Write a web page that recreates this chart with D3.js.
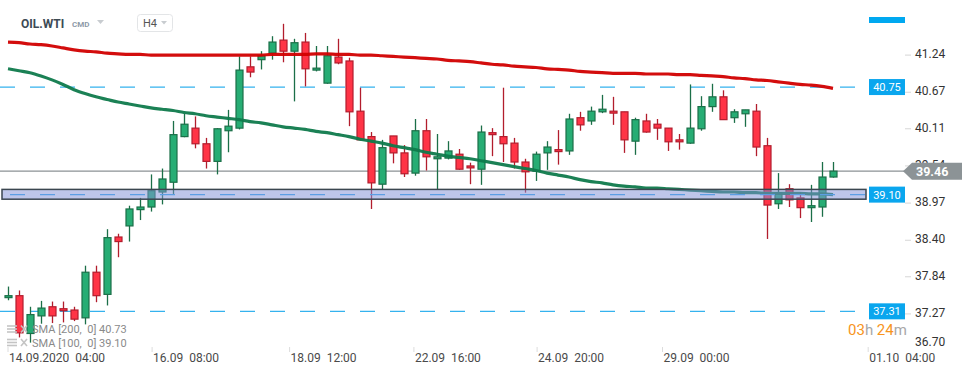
<!DOCTYPE html>
<html lang="en">
<head>
<meta charset="UTF-8">
<title>OIL.WTI H4</title>
<script src="https://d3js.org/d3.v7.min.js"></script>
<style>
body { margin: 0; background: #fff; font-family: Roboto, 'Open Sans', sans-serif; }
svg { display: block; }
.ytick { font-size: 12px; fill: #333; }
.xtick { font-size: 12px; fill: #4a4a4a; white-space: pre; }
.legend { font-size: 11px; fill: #8a8a8a; white-space: pre; }
</style>
</head>
<body>
<svg width="974" height="375"></svg>
<script>
// candle data, H4, index 0 = 14.09.2020 04:00
var opens  = [37.52,37.55,36.97,37.24,37.38,37.35,37.33,37.21,37.91,37.57,38.45,38.62,38.87,38.91,39.14,39.29,39.99,40.12,39.88,39.61,
              40.08,40.12,41.06,41.17,41.27,41.47,41.30,41.44,41.01,40.81,41.21,41.15,40.38,39.99,39.26,40.00,39.74,39.43,40.08,39.65,
              39.66,39.72,39.54,39.49,40.05,39.99,39.89,39.60,39.46,39.74,39.79,39.77,40.28,40.23,40.37,40.38,40.37,39.92,40.23,40.18,
              40.12,39.94,39.89,40.11,40.45,40.60,40.28,40.34,40.38,39.85,38.96,39.19,39.05,38.90,38.91,39.37];
var highs  = [37.69,37.63,37.38,37.47,37.46,37.46,37.38,38.01,38.01,38.57,38.50,38.93,39.05,39.41,39.50,40.23,40.34,40.30,39.97,40.12,
              40.40,41.22,41.22,41.30,41.53,41.72,41.49,41.58,41.38,41.38,41.49,41.20,40.74,40.06,39.94,40.00,39.86,40.26,40.26,40.03,
              39.92,39.80,39.59,40.16,40.12,40.74,39.97,39.65,39.76,39.92,40.09,40.34,40.37,40.45,40.63,40.60,40.37,40.28,40.34,40.26,
              40.12,40.03,40.79,40.61,40.80,40.70,40.41,40.40,40.49,39.97,39.43,39.26,39.14,39.25,39.60,39.60];
var lows   = [37.48,36.91,36.83,37.12,37.13,37.14,37.16,37.11,37.45,37.40,38.14,38.38,38.71,38.84,38.95,39.11,39.98,39.81,39.50,39.41,
              39.75,40.10,40.90,41.02,41.17,41.13,40.53,40.76,40.99,40.80,41.10,40.15,39.93,38.88,39.18,39.58,39.37,39.39,39.47,39.18,
              39.64,39.48,39.26,39.25,39.69,39.60,39.50,39.13,39.31,39.48,39.56,39.71,40.08,40.17,40.35,40.17,39.74,39.71,40.05,39.94,
              39.77,39.79,39.88,40.08,40.37,40.25,40.20,40.14,39.69,38.42,38.88,38.91,38.74,38.68,38.76,39.36];
var closes = [37.55,36.98,37.26,37.36,37.24,37.32,37.19,37.91,37.55,38.44,38.38,38.88,38.91,39.16,39.34,40.02,40.18,39.88,39.61,40.11,
              40.15,41.01,40.98,41.23,41.44,41.30,41.43,41.03,41.04,41.23,41.12,40.37,39.94,39.28,39.82,39.74,39.42,40.08,39.68,39.68,
              39.77,39.49,39.51,40.06,40.02,39.88,39.60,39.45,39.72,39.83,39.76,40.26,40.17,40.38,40.41,40.35,39.94,40.25,40.06,40.12,
              39.91,39.91,40.12,40.45,40.60,40.25,40.37,40.40,39.83,38.94,39.13,39.02,38.90,38.93,39.37,39.46];

var sma200 = [41.44,41.43,41.41,41.40,41.38,41.35,41.32,41.30,41.29,41.27,41.26,41.25,41.25,41.24,41.24,41.24,41.24,41.24,41.24,41.24,
              41.24,41.24,41.24,41.24,41.25,41.25,41.25,41.25,41.26,41.26,41.25,41.25,41.24,41.24,41.23,41.22,41.21,41.20,41.19,41.18,
              41.16,41.15,41.14,41.12,41.10,41.09,41.07,41.06,41.05,41.03,41.02,41.01,40.99,40.98,40.97,40.96,40.96,40.96,40.95,40.95,
              40.95,40.94,40.94,40.93,40.92,40.91,40.89,40.88,40.86,40.85,40.83,40.81,40.79,40.78,40.76,40.73];
var sma100 = [41.03,41.00,40.97,40.92,40.86,40.79,40.71,40.65,40.60,40.56,40.52,40.49,40.46,40.43,40.41,40.39,40.36,40.34,40.31,40.29,
              40.27,40.25,40.22,40.20,40.17,40.14,40.12,40.10,40.07,40.05,40.02,39.99,39.95,39.92,39.89,39.85,39.82,39.79,39.75,39.72,
              39.69,39.67,39.65,39.62,39.59,39.56,39.53,39.50,39.47,39.43,39.40,39.37,39.33,39.30,39.28,39.25,39.23,39.22,39.20,39.20,
              39.19,39.18,39.17,39.16,39.15,39.14,39.14,39.13,39.13,39.12,39.12,39.12,39.12,39.11,39.11,39.10];

var yTicks = [41.24, 40.67, 40.11, 39.54, 38.97, 38.40, 37.84, 37.27, 36.70];
var xLabels = ["14.09.2020  04:00", "16.09  08:00", "18.09  12:00", "22.09  16:00", "24.09  20:00", "29.09  00:00", "01.10  04:00"];
var xLabelIdx = [0, 13.1, 25.6, 36.9, 48.1, 59.5, 78.2];

var levels = [40.75, 37.31];      // dashed horizontal levels
var zone = [39.03, 39.18];        // support zone
var zoneLevel = 39.10;
var lastPrice = 39.46;
var smaLegend = [["SMA [200,  0]", "40.73"], ["SMA [100,  0]", "39.10"]];

var svg = d3.select("svg");
var x = d3.scaleLinear().domain([0, 75]).range([8, 833]);
var y = d3.scaleLinear().domain([36.70, 41.24]).range([351.1, 55.1]);

var upFill = "#27ad74", upLine = "#1b6f48", dnFill = "#ff3446", dnLine = "#b21d2d";

// header
var head = svg.append("g");
head.append("text").attr("x", 21).attr("y", 28).text("OIL.WTI")
    .style("font-size", "12px").style("font-weight", "bold").style("fill", "#3d4a55");
head.append("text").attr("x", 72).attr("y", 27).text("CMD")
    .style("font-size", "8px").style("font-weight", "bold").style("fill", "#8d9aa8");
head.append("path").attr("d", "M97,20 L104,20 L100.5,24 Z").style("fill", "#c8ccd0");
head.append("rect").attr("x", 137.5).attr("y", 14.5).attr("width", 35).attr("height", 17).attr("rx", 3)
    .style("fill", "#fff").style("stroke", "#e3e5e7");
head.append("text").attr("x", 143).attr("y", 27).text("H4").style("font-size", "11px").style("fill", "#555");
head.append("path").attr("d", "M161,21 L167,21 L164,24.5 Z").style("fill", "#c8ccd0");
svg.append("rect").attr("x", 869).attr("y", 17).attr("width", 36).attr("height", 6).style("fill", "#00a8f0");

// y axis
var yax = svg.append("g");
yTicks.forEach(function(v) {
    var ty = Math.min(y(v), 343);
    if (y(v) < 345) {
        yax.append("line").attr("x1", 905).attr("x2", 911).attr("y1", y(v)).attr("y2", y(v))
            .style("stroke", "#d6d6d6");
    }
    yax.append("text").attr("class", "ytick").attr("x", 915).attr("y", ty + 3).text(v.toFixed(2));
});

// x axis
var xax = svg.append("g");
xLabels.forEach(function(t, i) {
    var px = x(xLabelIdx[i]);
    xax.append("line").attr("x1", px).attr("x2", px).attr("y1", 347).attr("y2", 352).style("stroke", "#dcdcdc");
    xax.append("text").attr("class", "xtick").attr("x", px + 1).attr("y", 362).text(t);
});

// dashed levels
levels.forEach(function(v) {
    svg.append("line").attr("x1", 0).attr("x2", 866).attr("y1", y(v)).attr("y2", y(v))
        .style("stroke", "#35b2ee").style("stroke-width", 1.2).style("stroke-dasharray", "15,15");
});

// last price line
svg.append("line").attr("x1", 0).attr("x2", 905).attr("y1", y(lastPrice)).attr("y2", y(lastPrice))
    .style("stroke", "#8b9295").style("stroke-width", 1.2);

// candles
var data = opens.map(function(o, i) {
    return { i: i, o: o, h: highs[i], l: lows[i], c: closes[i] };
});
var cg = svg.append("g").selectAll("g").data(data).enter().append("g");
cg.append("line")
    .attr("x1", function(d) { return Math.round(x(d.i)) + 0.5; })
    .attr("x2", function(d) { return Math.round(x(d.i)) + 0.5; })
    .attr("y1", function(d) { return y(d.h); })
    .attr("y2", function(d) { return y(d.l); })
    .style("stroke", function(d) { return d.c >= d.o ? upLine : dnLine; })
    .style("stroke-width", 1.3);
cg.append("rect")
    .attr("x", function(d) { return Math.round(x(d.i)) - 3; })
    .attr("y", function(d) { return y(Math.max(d.o, d.c)); })
    .attr("width", 7)
    .attr("height", function(d) { return Math.max(1.5, Math.abs(y(d.o) - y(d.c))); })
    .style("fill", function(d) { return d.c >= d.o ? upFill : dnFill; })
    .style("stroke", function(d) { return d.c >= d.o ? upLine : dnLine; })
    .style("stroke-width", 1.2);

// moving averages
var line = d3.line().x(function(d, i) { return x(i); }).y(function(d) { return y(d); }).curve(d3.curveMonotoneX);
svg.append("path").datum(sma200).attr("d", line)
    .style("fill", "none").style("stroke", "#d10000").style("stroke-width", 3.2).style("opacity", 0.95);
svg.append("path").datum(sma100).attr("d", line)
    .style("fill", "none").style("stroke", "#0f7a4c").style("stroke-width", 3.2).style("opacity", 0.95);

// support zone
svg.append("rect").attr("x", 2).attr("y", y(zone[1])).attr("width", 864).attr("height", y(zone[0]) - y(zone[1]))
    .style("fill", "#8391d6").style("fill-opacity", 0.52).style("stroke", "#3b4650").style("stroke-width", 1.5);
svg.append("line").attr("x1", 10).attr("x2", 866).attr("y1", y(zoneLevel)).attr("y2", y(zoneLevel))
    .style("stroke", "#5c9ee4").style("stroke-width", 1.2).style("stroke-dasharray", "15,15");

// level tags
[levels[0], zoneLevel, levels[1]].forEach(function(v) {
    svg.append("rect").attr("x", 869).attr("y", y(v) - 8).attr("width", 36).attr("height", 16)
        .style("fill", "#0aa6ee");
    svg.append("text").attr("x", 887).attr("y", y(v) + 4).attr("text-anchor", "middle").text(v.toFixed(2))
        .style("font-size", "11px").style("fill", "#fff");
});

// last price tag
var ly = y(lastPrice);
svg.append("path")
    .attr("d", "M903," + ly + " L912," + (ly - 8.5) + " L962," + (ly - 8.5) + " L962," + (ly + 8.5) + " L912," + (ly + 8.5) + " Z")
    .style("fill", "#8c9396");
svg.append("text").attr("x", 916).attr("y", ly + 4.5).text(lastPrice.toFixed(2))
    .style("font-size", "12.5px").style("font-weight", "bold").style("fill", "#fff");

// timer
var timer = svg.append("text").attr("x", 848).attr("y", 335).style("font-size", "15px");
[["03", "#f7941d"], ["h ", "#a8a8a8"], ["24", "#f7941d"], ["m", "#a8a8a8"]].forEach(function(p) {
    timer.append("tspan").text(p[0]).style("fill", p[1]).style("white-space", "pre");
});

// legend
smaLegend.forEach(function(s, i) {
    var ly2 = 329 + i * 13.5;
    var g = svg.append("g").style("stroke", "#c4c4c4").style("stroke-width", 1.6);
    [-3, 0, 3].forEach(function(dy) {
        g.append("line").attr("x1", 7).attr("x2", 17).attr("y1", ly2 + dy).attr("y2", ly2 + dy);
    });
    g.append("line").attr("x1", 21).attr("x2", 27).attr("y1", ly2 - 3.5).attr("y2", ly2 + 3.5);
    g.append("line").attr("x1", 27).attr("x2", 21).attr("y1", ly2 - 3.5).attr("y2", ly2 + 3.5);
    svg.append("text").attr("class", "legend").attr("x", 32).attr("y", ly2 + 4).text(s[0] + " " + s[1]);
});
</script>
</body>
</html>
